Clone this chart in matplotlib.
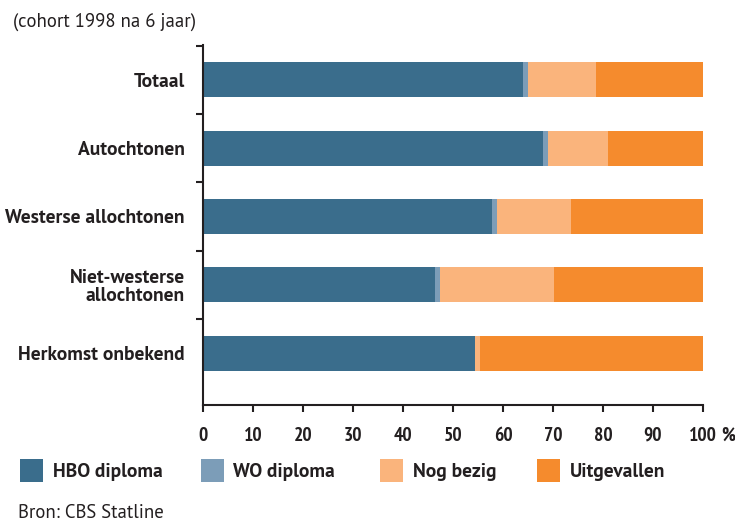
import numpy as np
import matplotlib.pyplot as plt
from matplotlib.patches import Rectangle

# data (percent, cohort 1998 after 6 years)
categories = ['Totaal', 'Autochtonen', 'Westerse allochtonen',
              'Niet-westerse\nallochtonen', 'Herkomst onbekend']
series = ['HBO diploma', 'WO diploma', 'Nog bezig', 'Uitgevallen']
hbo = [64.0, 68.0, 57.8, 46.4, 54.4]
wo = [1.0, 1.0, 1.0, 1.0, 0.0]
nog = [13.6, 12.0, 14.8, 22.8, 1.0]
uit = [21.4, 19.0, 26.4, 29.8, 44.6]
xticks = [0, 10, 20, 30, 40, 50, 60, 70, 80, 90, 100]

colors = ['#3a6d8c', '#7c9db8', '#fab47c', '#f58b2d']
dark = '#231f20'
narrow_font = ['PT Sans Narrow', 'DejaVu Sans']
bold_font = ['PT Sans', 'DejaVu Sans']
reg_font = ['PT Sans', 'DejaVu Sans']

fig = plt.figure(figsize=(7.35, 5.22), dpi=100)
ax = fig.add_axes([203/735, 1 - 405/522, 500/735, 360/522])

y = np.arange(len(categories))
left = np.zeros(len(categories))
for vals, col, name in zip([hbo, wo, nog, uit], colors, series):
    ax.barh(y, vals, left=left, height=0.51, color=col, label=name, linewidth=0)
    left += np.array(vals)

ax.set_xlim(0, 100)
ax.set_ylim(4.76, -0.51)
for s in ['top', 'right']:
    ax.spines[s].set_visible(False)
for s in ['left', 'bottom']:
    ax.spines[s].set_color(dark)
    ax.spines[s].set_linewidth(1.5)

ax.set_yticks(y)
ax.set_yticklabels(categories, fontsize=14, fontweight='bold',
                   family=bold_font, color=dark, linespacing=1.0)
ax.tick_params(axis='y', which='major', length=0, pad=13)
ax.set_yticks(np.arange(-0.5, 4, 1.0), minor=True)
ax.tick_params(axis='y', which='minor', length=5, width=1.5, color=dark)

ax.set_xticks(xticks)
ax.set_xticklabels([str(t) for t in xticks], fontsize=14, fontweight='bold',
                   family=narrow_font, color=dark)
ax.tick_params(axis='x', length=5, width=1.5, color=dark, pad=10.5)

fig.text(728/735, 1 - 436/522, '%', fontsize=14, fontweight='bold',
         family=narrow_font, color=dark, ha='center', va='center')

fig.text(13/735, 1 - 22/522, '(cohort 1998 na 6 jaar)', fontsize=13.5,
         family=reg_font, color=dark, ha='left', va='center')
fig.text(18/735, 1 - 513/522, 'Bron: CBS Statline', fontsize=13.5,
         family=reg_font, color=dark, ha='left', va='center')

# legend row
sq_x = [20, 201, 380, 537]
txt_x = [53, 233, 413, 570]
for sx, tx, col, name in zip(sq_x, txt_x, colors, series):
    fig.patches.append(Rectangle((sx/735, 1 - 482/522), 23/735, 23/522,
                                 transform=fig.transFigure, color=col, linewidth=0))
    fig.text(tx/735, 1 - 472/522, name, fontsize=14, fontweight='bold',
             family=bold_font, color=dark, ha='left', va='center')

fig.savefig('out.png', dpi=100)
